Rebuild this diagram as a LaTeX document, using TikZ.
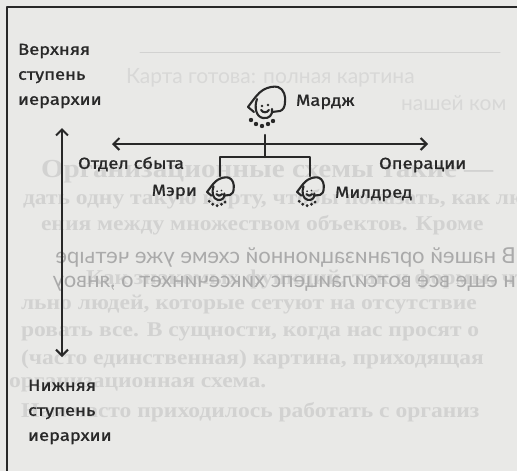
\documentclass[tikz,border=0pt]{standalone}
\usepackage{fontspec}
\usetikzlibrary{arrows.meta}

\newfontfamily\handfont{Fira Sans}[FakeStretch=1.15, FakeBold=1.2]
\newfontfamily\bookfont{Liberation Serif}[FakeStretch=1.12]
\newfontfamily\backfont{Lato}

\definecolor{paper}{RGB}{233,233,231}
\definecolor{ink}{RGB}{40,40,40}
\definecolor{ghost}{RGB}{210,210,209}
\definecolor{ghostlight}{RGB}{216,216,215}
\definecolor{ghostdark}{RGB}{170,170,170}

% little cartoon head: hood, face, collar of beads
\tikzset{
  person/.pic={
    \draw (-18,0) .. controls (-12,-8) and (-8,-14) .. (-3,-17)
          .. controls (2,-20) and (8,-21) .. (12,-20)
          .. controls (18,-18) and (20,-10) .. (19,-5)
          .. controls (19,0) and (17,3) .. (14,4) -- (6,5);
    \draw (-18,0) -- (-12,5);
    \draw (-9,-8) .. controls (-12,0) and (-10,10) .. (-3,11)
          .. controls (3,12) and (7,8) .. (6,2);
    \fill (-4,-1) circle (1.3) (2,-2) circle (1.3);
    \draw (-5,3) .. controls (-3,6) and (1,6) .. (3,3);
    \foreach \dx/\dy in {-15/13,-10/17,-4/19,2/17,7/14}
      \fill (\dx,\dy) circle (2.2);
    \coordinate (-top) at (0,-22);
    \coordinate (-bot) at (-1,28);
  }
}

\begin{document}
\begin{tikzpicture}[x=1pt, y=-1pt, >={Straight Barb[length=6pt,width=12pt]},
    line width=2.1pt, line cap=round, line join=round, draw=ink, fill=ink,
    lbl/.style={text=ink, inner sep=0pt, font={\handfont\fontsize{16}{25}\selectfont}},
    ghostline/.style={text=ghost, inner sep=0pt, anchor=west, font={\bookfont\bfseries\fontsize{21}{21}\selectfont}},
    mirror/.style={text=ghostdark, inner sep=0pt, anchor=west, xscale=-1, font={\backfont\fontsize{22}{22}\selectfont}}]
  \useasboundingbox (0,0) rectangle (517,471);
  \fill[paper] (0,0) rectangle (517,471);

  % show-through from the facing page
  \begin{scope}
    \clip (0,0) rectangle (517,471);
    \draw[ghost, line width=1pt] (140,52) -- (500,52);
    \node[ghostline, text=ghostlight, font={\backfont\fontsize{21}{21}\selectfont}] (g1) at (125,78) {Карта готова: полная картина};
    \node[ghostline, text=ghostlight, font={\backfont\fontsize{21}{21}\selectfont}] (g2) at (400,103) {нашей ком};
    \node[ghostline, font={\bookfont\bfseries\fontsize{26}{26}\selectfont}] (g3) at (40,172) {Организационные схемы такие —};
    \foreach \y/\x/\t in {199/22/{дать одну такую карту, чтобы показать, как лю},
                          225/40/{ения между множеством объектов. Кроме},
                          279/85/{Как знакомых функций, так и формы, чтобы},
                          305/20/{льно людей, которые сетуют на отсутствие},
                          332/20/{ровать все. В сущности, когда нас просят о},
                          359/20/{(часто единственная) картина, приходящая},
                          385/8/{организационная схема.},
                          412/20/{Нам часто приходилось работать с организ}}
      \node[ghostline] at (\x,\y) {\t};
    \node[mirror] (m1) at (517,258) {В нашей организационной схеме уже четыре};
    \node[mirror] (m2) at (517,284) {н еще все вотсилаицепс хиксечинхет о ,янвоу};
  \end{scope}

  % frame of the figure
  \draw[line width=1.5pt] (517,7) -- (7,7) -- (7,471);

  % hierarchy axis
  \node[lbl, align=left, anchor=west] (upper) at (17,76) {Верхняя\\ступень\\иерархии};
  \node[lbl, align=left, anchor=west] (lower) at (27,412) {Нижняя\\ступень\\иерархии};
  \coordinate (hi) at (62,128);
  \coordinate (lo) at (62,357);
  \draw[<->] (hi) -- (lo);

  % functions axis
  \coordinate (lft) at (112,144);
  \coordinate (rgt) at (428,144);
  \draw[<->] (lft) -- (rgt);
  \node[lbl, anchor=west] (sales) at (77,164) {Отдел сбыта};
  \node[lbl, anchor=west] (ops) at (378,165) {Операции};

  % the people
  \pic (marge) at (266,107) {person};
  \pic[scale=0.72] (mary) at (220,192) {person};
  \pic[scale=0.72] (mildred) at (310,192) {person};
  \node[lbl, anchor=west] (margename) at (295,102) {Мардж};
  \node[lbl, anchor=east] (maryname) at (198,192) {Мэри};
  \node[lbl, anchor=west] (mildredname) at (334,194) {Милдред};

  \coordinate (split) at (265,157);
  \draw (marge-bot) -- (split);
  \draw (mary-top) |- (split) -| (mildred-top);
\end{tikzpicture}
\end{document}
